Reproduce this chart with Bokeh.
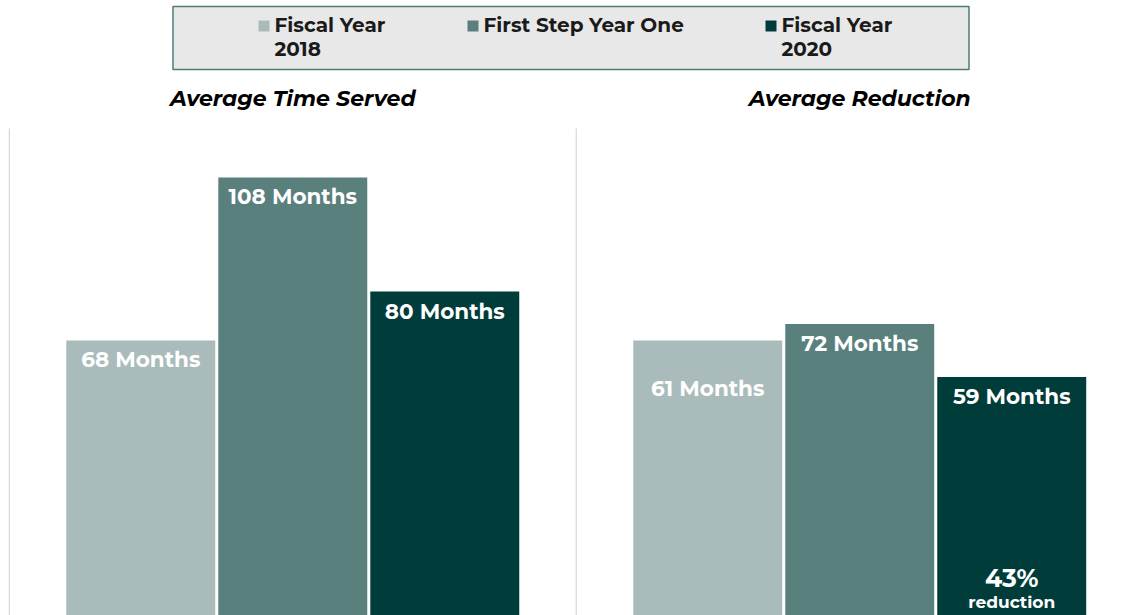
from bokeh.plotting import figure
from bokeh.models import Range1d
from bokeh.core.properties import value
from bokeh.embed import file_html
from bokeh.resources import INLINE

# ---------------- data ----------------
series = ["Fiscal Year 2018", "First Step Year One", "Fiscal Year 2020"]
legend_lines = [["Fiscal Year", "2018"], ["First Step Year One"], ["Fiscal Year", "2020"]]
colors = ["#a9bcbb", "#5a807e", "#003d3a"]
panel_titles = ["Average Time Served", "Average Reduction"]
time_served = [68, 108, 80]
reduction = [61, 72, 59]
reduction_drawn = [68, 72, 59]   # bar heights as drawn in the source picture
note_pct = "43%"
note_word = "reduction"

FONT = value("Montserrat, Open Sans")

# ---------------- geometry ----------------
W, H = 1135, 615
PX_PER_UNIT = 152.0
X_START = -140.5 / PX_PER_UNIT
X_END = X_START + W / PX_PER_UNIT
PX_PER_MONTH = 4.075
BASE_PY = 617.0                       # page y of the zero line
Y_START = (BASE_PY - H) / PX_PER_MONTH
Y_END = BASE_PY / PX_PER_MONTH


def px_x(px):
    return X_START + px / PX_PER_UNIT


def px_y(py):
    return (BASE_PY - py) / PX_PER_MONTH


p = figure(width=W, height=H, x_range=Range1d(X_START, X_END), y_range=Range1d(Y_START, Y_END),
           output_backend="svg", toolbar_location=None, min_border=0,
           outline_line_color=None, background_fill_color="white")
p.xaxis.visible = False
p.yaxis.visible = False
p.xgrid.visible = False
p.ygrid.visible = False

PANEL_W = 3.73
panel_left = [px_x(8.8), px_x(8.8) + PANEL_W]

# panel separators
p.segment(x0=[panel_left[0], panel_left[1]], x1=[panel_left[0], panel_left[1]],
          y0=[Y_START - 5] * 2, y1=[px_y(128)] * 2, line_color="#d9d9d9", line_width=1.2)

label_off = 19 / PX_PER_MONTH
panels = [(time_served, time_served), (reduction_drawn, reduction)]
for k, (drawn, vals) in enumerate(panels):
    center = panel_left[k] + PANEL_W / 2
    xs = [center + (i - 1) for i in range(3)]
    p.vbar(x=xs, top=drawn, bottom=0, width=0.98, fill_color=colors, line_color=None)
    p.text(x=xs, y=[v - label_off for v in vals], text=[f"{v} Months" for v in vals],
           text_font=FONT, text_font_style="bold", text_font_size="21.5px",
           text_color="white", text_align="center", text_baseline="middle")
    p.text(x=[center], y=[px_y(98)], text=[panel_titles[k]], text_font=FONT,
           text_font_style="bold italic", text_font_size="22px", text_color="black",
           text_align="center", text_baseline="middle")
    if k == 1:
        p.text(x=[xs[2]], y=[px_y(577)], text=[note_pct], text_font=FONT, text_font_style="bold",
               text_font_size="25px", text_color="white", text_align="center", text_baseline="middle")
        p.text(x=[xs[2]], y=[px_y(601)], text=[note_word], text_font=FONT, text_font_style="bold",
               text_font_size="17px", text_color="white", text_align="center", text_baseline="middle")

# legend box
p.quad(left=[px_x(172.5)], right=[px_x(968.5)], top=[px_y(6)], bottom=[px_y(69)],
       fill_color="#e8e8e8", line_color="#4e7b78", line_width=1.5)
sq_px = [258, 467, 765]
for i, lines in enumerate(legend_lines):
    p.rect(x=[px_x(sq_px[i] + 5.5)], y=[px_y(25.5)], width=11, height=11,
           width_units="screen", height_units="screen", fill_color=colors[i], line_color=None)
    p.text(x=[px_x(sq_px[i] + 16)] * len(lines), y=[px_y(24 + 24 * j) for j in range(len(lines))],
           text=lines, text_font=FONT, text_font_style="bold", text_font_size="20px",
           text_color="#1a1a1a", text_align="left", text_baseline="middle")

open("out.html", "w").write(file_html(p, INLINE))
